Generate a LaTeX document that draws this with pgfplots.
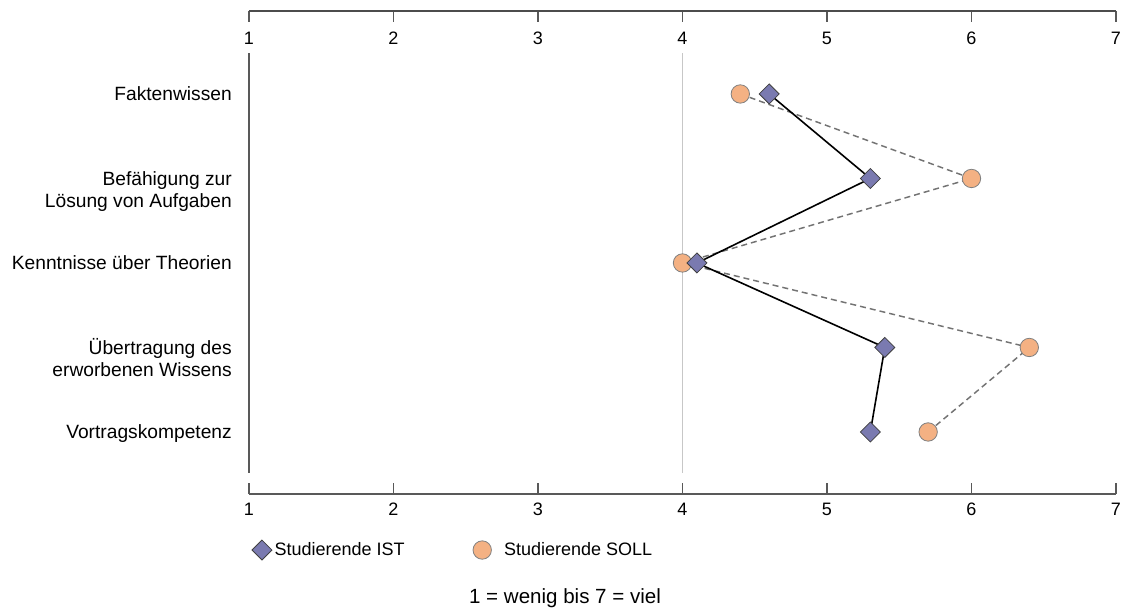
\documentclass[border=0pt]{standalone}
\usepackage{fontspec}
\setmainfont{Liberation Sans}
\usepackage{pgfplots}
\pgfplotsset{compat=1.18}
\definecolor{istfill}{RGB}{122,122,176}
\definecolor{sollfill}{RGB}{244,177,131}
\newcommand{\lab}[1]{\begin{tabular}[t]{@{}r@{}}#1\end{tabular}}
\begin{document}
\begin{tikzpicture}[font=\fontsize{13.5}{16.5}\selectfont]
\begin{axis}[name=ax, scale only axis, width=650.25pt, height=362.25pt,
  xmin=1, xmax=7, ymin=0.266, ymax=5.982, clip=false,
  axis line style={draw=none},
  /pgf/number format/assume math mode=true,
  xtick={1,...,7}, xtick pos=both, xticklabel pos=lower, tick align=inside,
  major tick length=8.25pt,
  x tick style={draw=black!65, line width=0.9pt},
  xticklabel style={inner sep=0pt, yshift=-6.75pt},
  ytick={1,...,5},
  yticklabels={\lab{Vortragskompetenz}, \lab{Übertragung des\\erworbenen Wissens}, \lab{Kenntnisse über Theorien}, \lab{Befähigung zur\\Lösung von Aufgaben}, \lab{Faktenwissen}},
  y tick style={draw=none},
  yticklabel style={anchor=base east, inner sep=0pt, xshift=-12.75pt, yshift=-4.9pt, font=\fontsize{14.4}{16.5}\selectfont},
  legend columns=2,
  legend style={at={(-0.0015,-0.116)}, anchor=west, draw=none, fill=none,
    /tikz/every even column/.append style={column sep=49.25pt}},
]
\draw[black!65, line width=1pt] (axis cs:1,0.515) -- (axis cs:1,5.485);
\draw[black!22, line width=1.1pt] (axis cs:4,0.515) -- (axis cs:4,5.485);
\draw[black!70, line width=1pt] (axis cs:1,5.982) -- (axis cs:7,5.982);
\draw[black!65, line width=1pt] (axis cs:1,0.266) -- (axis cs:7,0.266);
\pgfplotsinvokeforeach{1,...,7}{
  \node[anchor=north, inner sep=0pt, yshift=-15.75pt] at (axis cs:#1,5.982) {#1};
}
\addlegendimage{only marks, mark=square*, mark size=5.3pt, mark options={rotate=45, fill=istfill, draw=black!75, line width=0.6pt}}
\addlegendentry{Studierende IST}
\addlegendimage{only marks, mark=*, mark size=6.9pt, mark options={fill=sollfill, draw=black!50, line width=0.6pt}}
\addlegendentry{\hspace{7.5pt}Studierende SOLL}
\addplot[forget plot, black!55, dash pattern=on 4.5pt off 3pt, line width=1.1pt, mark=*, mark size=6.9pt,
  mark options={solid, fill=sollfill, draw=black!50, line width=0.6pt}]
  coordinates {(4.4,5) (6.0,4) (4.0,3) (6.4,2) (5.7,1)};
\addplot[forget plot, black, line width=1.2pt, mark=square*, mark size=5.3pt,
  mark options={rotate=45, fill=istfill, draw=black!75, line width=0.6pt}]
  coordinates {(4.6,5) (5.3,4) (4.1,3) (5.4,2) (5.3,1)};
\node[font=\fontsize{15.4}{18}\selectfont] at (axis description cs:0.3645,-0.215) {1 = wenig bis 7 = viel};
\end{axis}
\pgfresetboundingbox
\path[use as bounding box] (ax.north west) ++(-186.75pt,8.25pt) rectangle ++(845.25pt,-457.5pt);
\end{tikzpicture}
\end{document}
